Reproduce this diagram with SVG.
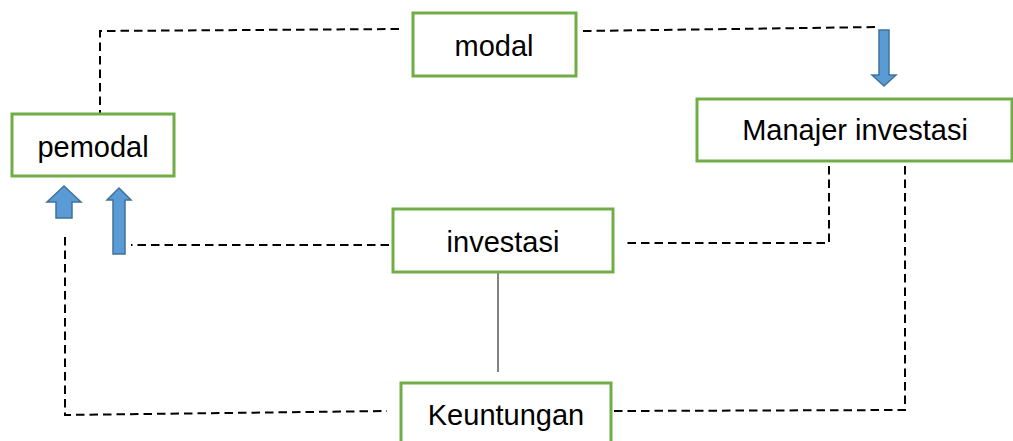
<svg xmlns="http://www.w3.org/2000/svg" width="1013" height="441" viewBox="0 0 1013 441">
<style>
.box{fill:#fff;stroke:#70AD47;stroke-width:3}
.lbl{font-family:"Liberation Sans",Arial,sans-serif;font-size:29px;fill:#000;text-anchor:middle}
.dash{fill:none;stroke:#000;stroke-width:2;stroke-dasharray:8.5 5}
.solid{fill:none;stroke:#404040;stroke-width:1.3}
.barrow{fill:#5B9BD5;stroke:#41719C;stroke-width:1.5;stroke-linejoin:miter}
</style>
<rect width="1013" height="441" fill="#fff"/>
<g id="connectors">
<polyline class="dash" points="399,29 100,31 100,114"/>
<polyline class="dash" points="583,31 880,27"/>
<polyline class="dash" points="829,166 829,243 627,243"/>
<polyline class="dash" points="389,245 131,245"/>
<polyline class="dash" points="65,237 65,415 387,411"/>
<polyline class="dash" points="614,411 905,410 905,163"/>
<line class="solid" x1="498" y1="273" x2="498" y2="372"/>
<polygon id="arrow-down" class="barrow" points="879,30 889,30 889,75 896,75 884,86 872,75 879,75"/>
<polygon id="arrow-up-wide" class="barrow" points="64,186 81,202 72,202 72,218 56,218 56,202 47,202"/>
<polygon id="arrow-up-thin" class="barrow" points="119,188 131,200 125,200 125,254 113,254 113,200 107,200"/>
</g>
<g id="node-modal">
<rect class="box" x="413" y="13" width="163" height="63"/>
<text class="lbl" x="494" y="56">modal</text>
</g>
<g id="node-pemodal">
<rect class="box" x="12" y="114" width="162" height="62"/>
<text class="lbl" x="93" y="157">pemodal</text>
</g>
<g id="node-manajer">
<rect class="box" x="697" y="99" width="315" height="62"/>
<text class="lbl" x="855" y="140">Manajer investasi</text>
</g>
<g id="node-investasi">
<rect class="box" x="393" y="209" width="220" height="63"/>
<text class="lbl" x="503" y="252">investasi</text>
</g>
<g id="node-keuntungan">
<rect class="box" x="401" y="383" width="210" height="70"/>
<text class="lbl" x="506" y="425">Keuntungan</text>
</g>
</svg>
